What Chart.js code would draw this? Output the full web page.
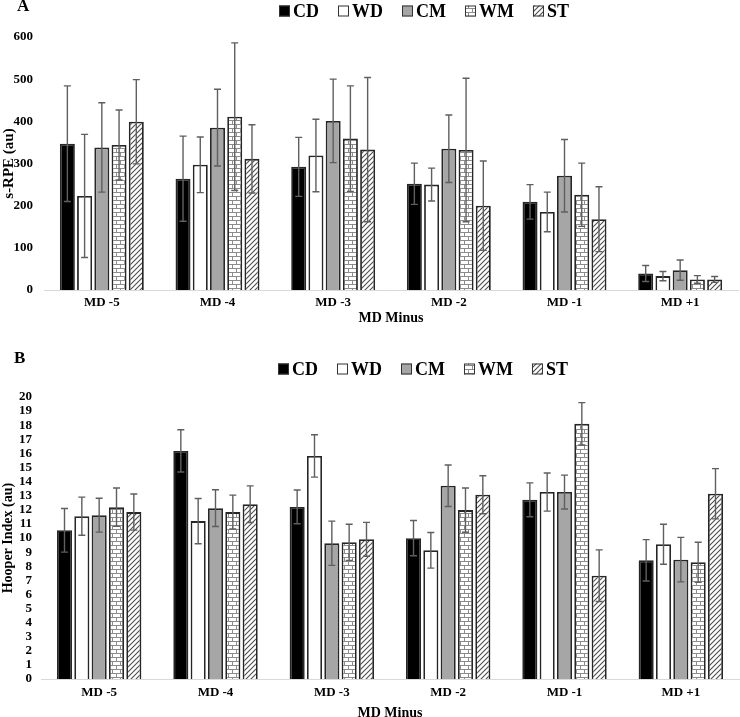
<!DOCTYPE html>
<html lang="en">
<head>
<meta charset="UTF-8">
<title>s-RPE and Hooper Index</title>
<script src="https://cdn.jsdelivr.net/npm/chart.js@4"></script>
<style>
  body { margin: 0; background: #fff; overflow: hidden; }
  .panel { position: absolute; left: 0; }
  #panelA { top: 0; }
  #panelB { top: 325px; }
</style>
</head>
<body>
<div class="panel" id="panelA"><canvas id="chartA" width="740" height="327"></canvas></div>
<div class="panel" id="panelB"><canvas id="chartB" width="740" height="398"></canvas></div>
<script>
const categories = ['MD -5', 'MD -4', 'MD -3', 'MD -2', 'MD -1', 'MD +1'];
const seriesNames = ['CD', 'WD', 'CM', 'WM', 'ST'];

// panel A: s-RPE (au), mean and SD
const rpeCD = [347, 264, 292, 252, 209, 39];
const rpeWD = [223, 297, 319, 250, 185, 33];
const rpeCM = [338, 385, 401, 335, 271, 47];
const rpeWM = [344, 411, 359, 332, 226, 25];
const rpeST = [399, 311, 333, 200, 168, 25];
const rpeCDsd = [137, 101, 70, 49, 41, 19];
const rpeWDsd = [146, 66, 86, 39, 47, 11];
const rpeCMsd = [106, 91, 99, 80, 86, 24];
const rpeWMsd = [83, 175, 125, 170, 75, 9];
const rpeSTsd = [100, 81, 171, 106, 77, 7];

// panel B: Hooper index (au), mean and SD
const hooperCD = [10.55, 16.18, 12.21, 9.99, 12.71, 8.42];
const hooperWD = [11.55, 11.2, 15.82, 9.13, 13.26, 9.56];
const hooperCM = [11.62, 12.12, 9.63, 13.71, 13.26, 8.47];
const hooperWM = [12.19, 11.84, 9.7, 11.98, 18.1, 8.28];
const hooperST = [11.84, 12.4, 9.91, 13.07, 7.33, 13.14];
const hooperCDsd = [1.55, 1.5, 1.2, 1.25, 1.2, 1.47];
const hooperWDsd = [1.35, 1.6, 1.5, 1.26, 1.35, 1.42];
const hooperCMsd = [1.2, 1.3, 1.57, 1.47, 1.2, 1.58];
const hooperWMsd = [1.36, 1.2, 1.28, 1.57, 1.5, 1.42];
const hooperSTsd = [1.28, 1.3, 1.2, 1.35, 1.83, 1.78];

const serif = '"Liberation Serif", "Times New Roman", serif';

function brickPattern() {
  const c = document.createElement('canvas');
  c.width = 8; c.height = 8;
  const g = c.getContext('2d');
  g.fillStyle = '#fff';
  g.fillRect(0, 0, 8, 8);
  g.strokeStyle = '#8c8c8c';
  g.lineWidth = 1;
  g.beginPath();
  g.moveTo(0, 0.5); g.lineTo(8, 0.5);
  g.moveTo(0, 4.5); g.lineTo(8, 4.5);
  g.moveTo(0.5, 0); g.lineTo(0.5, 4);
  g.moveTo(4.5, 4); g.lineTo(4.5, 8);
  g.stroke();
  return g.createPattern(c, 'repeat');
}

function hatchPattern() {
  const s = 5;
  const c = document.createElement('canvas');
  c.width = s; c.height = s;
  const g = c.getContext('2d');
  g.fillStyle = '#fff';
  g.fillRect(0, 0, s, s);
  g.strokeStyle = '#4d4d4d';
  g.lineWidth = 1.1;
  g.beginPath();
  g.moveTo(-1, s + 1); g.lineTo(s + 1, -1);
  g.moveTo(-1, 1); g.lineTo(1, -1);
  g.moveTo(s - 1, s + 1); g.lineTo(s + 1, s - 1);
  g.stroke();
  return g.createPattern(c, 'repeat');
}

const fills = ['#000', '#fff', '#a6a6a6', brickPattern(), hatchPattern()];

const errorBars = {
  id: 'errorBars',
  afterDatasetsDraw(chart) {
    const ctx = chart.ctx;
    const y = chart.scales.y;
    ctx.save();
    ctx.strokeStyle = '#5f5f5f';
    ctx.lineWidth = 1.4;
    chart.data.datasets.forEach((ds, i) => {
      chart.getDatasetMeta(i).data.forEach((bar, j) => {
        const v = ds.data[j], e = ds.errors[j];
        const top = y.getPixelForValue(v + e);
        const bot = y.getPixelForValue(Math.max(0, v - e));
        ctx.beginPath();
        ctx.moveTo(bar.x, top); ctx.lineTo(bar.x, bot);
        ctx.moveTo(bar.x - 3.5, top); ctx.lineTo(bar.x + 3.5, top);
        ctx.moveTo(bar.x - 3.5, bot); ctx.lineTo(bar.x + 3.5, bot);
        ctx.stroke();
      });
    });
    ctx.restore();
  }
};

const panelLegend = {
  id: 'panelLegend',
  afterDraw(chart, args, o) {
    const ctx = chart.ctx;
    ctx.save();
    ctx.textBaseline = 'middle';
    ctx.fillStyle = '#000';
    ctx.font = 'bold 17px ' + serif;
    ctx.fillText(o.letter, o.letterX, o.letterY);
    ctx.font = 'bold 18px ' + serif;
    let x = o.x;
    chart.data.datasets.forEach(ds => {
      ctx.fillStyle = ds.backgroundColor;
      ctx.fillRect(x, o.y - 5.5, 11, 11);
      ctx.strokeStyle = '#333';
      ctx.lineWidth = 1;
      ctx.strokeRect(x + 0.5, o.y - 5, 10, 10);
      ctx.fillStyle = '#000';
      ctx.fillText(ds.label, x + 14, o.y + 1);
      x += 14 + ctx.measureText(ds.label).width + 19;
    });
    ctx.restore();
  }
};

function makeChart(id, cfg) {
  return new Chart(document.getElementById(id), {
    type: 'bar',
    data: {
      labels: categories,
      datasets: cfg.values.map((vals, k) => ({
        label: seriesNames[k],
        data: vals,
        errors: cfg.errors[k],
        backgroundColor: fills[k],
        borderColor: '#262626',
        borderWidth: 1.8,
        categoryPercentage: 0.745,
        barPercentage: 0.87
      }))
    },
    options: {
      responsive: false,
      animation: false,
      layout: { padding: cfg.padding },
      plugins: {
        legend: { display: false },
        tooltip: { enabled: false },
        panelLegend: cfg.legend
      },
      scales: {
        x: {
          grid: { display: false, drawTicks: false },
          border: { color: '#d9d9d9', width: 1 },
          ticks: { font: { family: serif, size: 13, weight: 'bold' }, color: '#000', padding: cfg.xTickPad },
          title: { display: true, text: 'MD Minus', font: { family: serif, size: 14, weight: 'bold' }, color: '#000', padding: { top: cfg.xTitlePad, bottom: 0 } }
        },
        y: {
          min: 0,
          max: cfg.max,
          grid: { display: false, drawTicks: false },
          border: { display: false },
          ticks: { stepSize: cfg.step, autoSkip: false, font: { family: serif, size: 13, weight: 'bold' }, color: '#000', padding: cfg.yTickPad },
          title: { display: true, text: cfg.yTitle, font: { family: serif, size: cfg.yTitleSize, weight: 'bold' }, color: '#000', padding: 0 },
          afterFit(s) { s.width = cfg.yWidth; }
        }
      }
    },
    plugins: [errorBars, panelLegend]
  });
}

makeChart('chartA', {
  values: [rpeCD, rpeWD, rpeCM, rpeWM, rpeST],
  errors: [rpeCDsd, rpeWDsd, rpeCMsd, rpeWMsd, rpeSTsd],
  max: 600, step: 100,
  yTitle: 's-RPE (au)', yTitleSize: 15,
  yWidth: 44, yTickPad: 11,
  padding: { top: 37, right: 2, bottom: 0.6, left: 0 },
  xTickPad: 5, xTitlePad: -6,
  legend: { letter: 'A', letterX: 17, letterY: 7, x: 279, y: 11 }
});

makeChart('chartB', {
  values: [hooperCD, hooperWD, hooperCM, hooperWM, hooperST],
  errors: [hooperCDsd, hooperWDsd, hooperCMsd, hooperWMsd, hooperSTsd],
  max: 20, step: 1,
  yTitle: 'Hooper Index (au)', yTitleSize: 14,
  yWidth: 41, yTickPad: 9,
  padding: { top: 72, right: 1, bottom: 1, left: 0 },
  xTickPad: 6, xTitlePad: -1.5,
  legend: { letter: 'B', letterX: 14, letterY: 34, x: 278, y: 44 }
});
</script>
</body>
</html>
